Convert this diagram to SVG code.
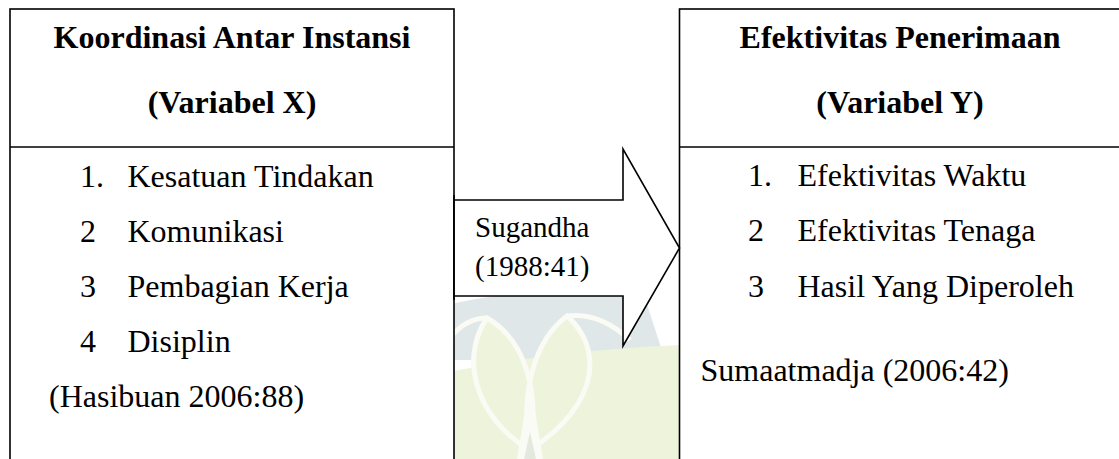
<svg xmlns="http://www.w3.org/2000/svg" width="1119" height="459" viewBox="0 0 1119 459">
  <defs>
    <style>
      .t { font-family: "Liberation Serif", "Times New Roman", serif; font-size: 32px; fill: #000; }
      .b { font-weight: bold; text-anchor: middle; }
      .s { font-size: 29px; }
      .box { fill: #fff; stroke: #000; stroke-width: 1.6; }
      .ln { stroke: #000; stroke-width: 1.6; fill: none; }
      .wg { fill: #eef4dc; }
      .wb { fill: #e0e7e8; }
      .ww { fill: none; stroke: #f9fbf4; stroke-width: 5; }
    </style>
  </defs>
  <rect width="1119" height="459" fill="#fff"/>
  <!-- faint watermark -->
  <g id="watermark">
    <path class="wb" d="M 448 305 Q 530 284 645 298 L 665 360 L 448 360 Z"/>
    <path class="wg" d="M 448 372 Q 560 350 680 345 L 680 459 L 448 459 Z"/>
    <path class="wg" d="M 487 318 C 525 340 540 390 530 450 C 478 420 458 360 487 318 Z"/>
    <path class="wg" d="M 567 316 C 600 345 605 400 530 450 C 520 390 535 340 567 316 Z"/>
    <path class="ww" d="M 487 318 C 525 340 540 390 530 450 C 478 420 458 360 487 318 Z"/>
    <path class="ww" d="M 567 316 C 600 345 605 400 530 450 C 520 390 535 340 567 316 Z"/>
    <path class="ww" d="M 448 340 Q 465 318 487 318 M 567 316 Q 600 312 630 340"/>
    <path d="M 530 380 L 543 459 L 517 459 Z" fill="#f9fbf4"/>
    <path d="M 530 432 L 536 459 L 524 459 Z" fill="#e4e9de"/>
  </g>
  <g id="nodeX">
    <rect class="box" x="10" y="9" width="444" height="470"/>
    <line class="ln" x1="10" y1="147" x2="454" y2="147"/>
    <text class="t b" x="232" y="47.5">Koordinasi Antar Instansi</text>
    <text class="t b" x="232" y="113">(Variabel X)</text>
    <text class="t" x="80" y="186.5">1.</text><text class="t" x="127.5" y="186.5">Kesatuan Tindakan</text>
    <text class="t" x="80" y="241.5">2</text><text class="t" x="127.5" y="241.5">Komunikasi</text>
    <text class="t" x="80" y="296.5">3</text><text class="t" x="127.5" y="296.5">Pembagian Kerja</text>
    <text class="t" x="80" y="352">4</text><text class="t" x="127.5" y="352">Disiplin</text>
    <text class="t" x="49" y="407">(Hasibuan 2006:88)</text>
  </g>
  <g id="nodeY">
    <rect class="box" x="679.5" y="9" width="470" height="470"/>
    <line class="ln" x1="679.5" y1="147" x2="1119" y2="147"/>
    <text class="t b" x="900" y="47.5">Efektivitas Penerimaan</text>
    <text class="t b" x="900" y="113">(Variabel Y)</text>
    <text class="t" x="748" y="186">1.</text><text class="t" x="797.5" y="186">Efektivitas Waktu</text>
    <text class="t" x="748" y="241">2</text><text class="t" x="797.5" y="241">Efektivitas Tenaga</text>
    <text class="t" x="748" y="296.5">3</text><text class="t" x="797.5" y="296.5">Hasil Yang Diperoleh</text>
    <text class="t" x="700.5" y="380.5">Sumaatmadja (2006:42)</text>
  </g>
  <g id="connectors">
    <polygon class="box" points="454,200 623,200 623,149 679.5,248 623,346 623,296 454,296"/>
    <line class="ln" x1="454" y1="195" x2="454" y2="300"/>
    <text class="t s" x="475" y="237">Sugandha</text>
    <text class="t s" x="475" y="276">(1988:41)</text>
  </g>
</svg>
